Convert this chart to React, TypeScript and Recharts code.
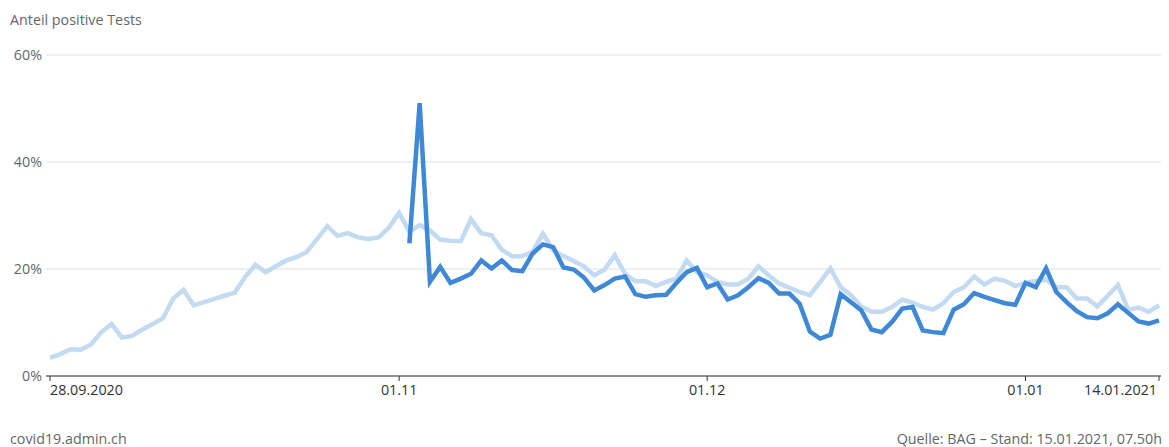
import React from 'react';
import { LineChart, Line, XAxis, YAxis, CartesianGrid } from 'recharts';

// share of positive tests, daily from 28.09.2020 to 14.01.2021
const pcrShare = [
  3.4, 4.1, 5.0, 4.9, 5.9, 8.2, 9.7, 7.2, 7.5, 8.7,
  9.7, 10.8, 14.5, 16.1, 13.2, 13.8, 14.4, 15.0, 15.6, 18.5,
  20.8, 19.4, 20.5, 21.6, 22.2, 23.2, 25.6, 28.0, 26.2, 26.7,
  25.9, 25.6, 25.9, 27.7, 30.5, 26.9, 28.2, 27.2, 25.5, 25.3,
  25.2, 29.3, 26.7, 26.3, 23.6, 22.4, 22.4, 23.2, 26.6, 23.5,
  22.4, 21.5, 20.5, 18.8, 19.9, 22.6, 19.1, 17.7, 17.7, 16.8,
  17.6, 18.2, 21.6, 19.4, 18.8, 17.6, 17.1, 17.1, 18.2, 20.5,
  18.8, 17.3, 16.5, 15.7, 15.1, 17.6, 20.1, 16.6, 15.1, 13.0,
  12.0, 12.0, 12.9, 14.3, 13.7, 12.9, 12.4, 13.6, 15.7, 16.6,
  18.6, 17.1, 18.2, 17.8, 16.8, 17.4, 17.8, 18.0, 16.6, 16.6,
  14.5, 14.5, 13.0, 15.0, 17.0, 12.4, 12.8, 12.0, 13.2,
];

// antigen tests reported from 02.11.2020 onwards
const antigenStart = 35;
const antigenShare = [
  24.8, 51.0, 17.6, 20.4, 17.4, 18.2, 19.1, 21.6, 20.1, 21.6,
  19.8, 19.6, 22.9, 24.6, 24.1, 20.3, 19.9, 18.4, 16.0, 17.0,
  18.2, 18.6, 15.3, 14.8, 15.1, 15.2, 17.4, 19.4, 20.2, 16.6,
  17.3, 14.3, 15.1, 16.6, 18.3, 17.4, 15.4, 15.4, 13.5, 8.3,
  7.0, 7.7, 15.3, 13.8, 12.3, 8.7, 8.2, 10.1, 12.6, 12.9,
  8.5, 8.2, 8.0, 12.4, 13.4, 15.5, 14.8, 14.2, 13.6, 13.3,
  17.4, 16.6, 20.1, 15.7, 13.8, 12.1, 11.0, 10.8, 11.7, 13.4,
  11.8, 10.2, 9.8, 10.4,
];

const tickDays = [0, 34, 64, 95, 108];
const tickLabels = ['28.09.2020', '01.11', '01.12', '01.01', '14.01.2021'];
const yTicks = [0, 20, 40, 60];

const start = new Date(2020, 8, 28);
const data = pcrShare.map((v, i) => {
  const d = new Date(start.getTime() + i * 86400000);
  const date = `${String(d.getDate()).padStart(2, '0')}.${String(d.getMonth() + 1).padStart(2, '0')}`;
  const a = i >= antigenStart ? antigenShare[i - antigenStart] : null;
  return { day: i, date, pcr: v, antigen: a };
});

const font = '"Open Sans", sans-serif';
const fs = 14.3;

const XTick = (props: any) => {
  const { x, y, payload, index } = props;
  const i = tickDays.indexOf(payload.value);
  const anchor = index === 0 ? 'start' : index === tickDays.length - 1 ? 'end' : 'middle';
  return (
    <text x={x} y={y} dy="0.71em" textAnchor={anchor} fill="#333" fontSize={fs} fontFamily={font}>
      {tickLabels[i]}
    </text>
  );
};

export default function App() {
  return (
    <div style={{ position: 'absolute', left: 0, top: 0, width: 1169, height: 447, background: '#fff', fontFamily: font }}>
      <div style={{ position: 'absolute', left: 10, top: 13, fontSize: fs, lineHeight: '14px', color: '#666' }}>
        Anteil positive Tests
      </div>
      <LineChart
        width={1169}
        height={447}
        data={data}
        margin={{ top: 55, right: 8, bottom: 41, left: 0 }}
      >
        <CartesianGrid vertical={false} stroke="#e0e0e0" />
        <XAxis
          dataKey="day"
          type="number"
          domain={[0, 108]}
          ticks={tickDays}
          padding={{ left: 4, right: 2 }}
          height={30}
          stroke="#333"
          tickSize={5}
          tickMargin={4}
          tick={<XTick />}
        />
        <YAxis
          domain={[0, 60]}
          ticks={yTicks}
          width={46}
          axisLine={false}
          tickLine={false}
          tickSize={0}
          tickMargin={4}
          tick={{ fill: '#666', fontSize: fs, fontFamily: font }}
          tickFormatter={(v) => `${v}%`}
        />
        <Line
          dataKey="pcr"
          type="linear"
          stroke="#c2daf2"
          strokeWidth={4.5}
          dot={false}
          isAnimationActive={false}
        />
        <Line
          dataKey="antigen"
          type="linear"
          stroke="#3f88d6"
          strokeWidth={4.5}
          dot={false}
          isAnimationActive={false}
        />
      </LineChart>
      <div style={{ position: 'absolute', left: 10, top: 432, fontSize: fs, lineHeight: '14px', color: '#666' }}>
        covid19.admin.ch
      </div>
      <div style={{ position: 'absolute', right: 7, top: 432, fontSize: fs, lineHeight: '14px', color: '#666' }}>
        Quelle: BAG – Stand: 15.01.2021, 07.50h
      </div>
    </div>
  );
}
